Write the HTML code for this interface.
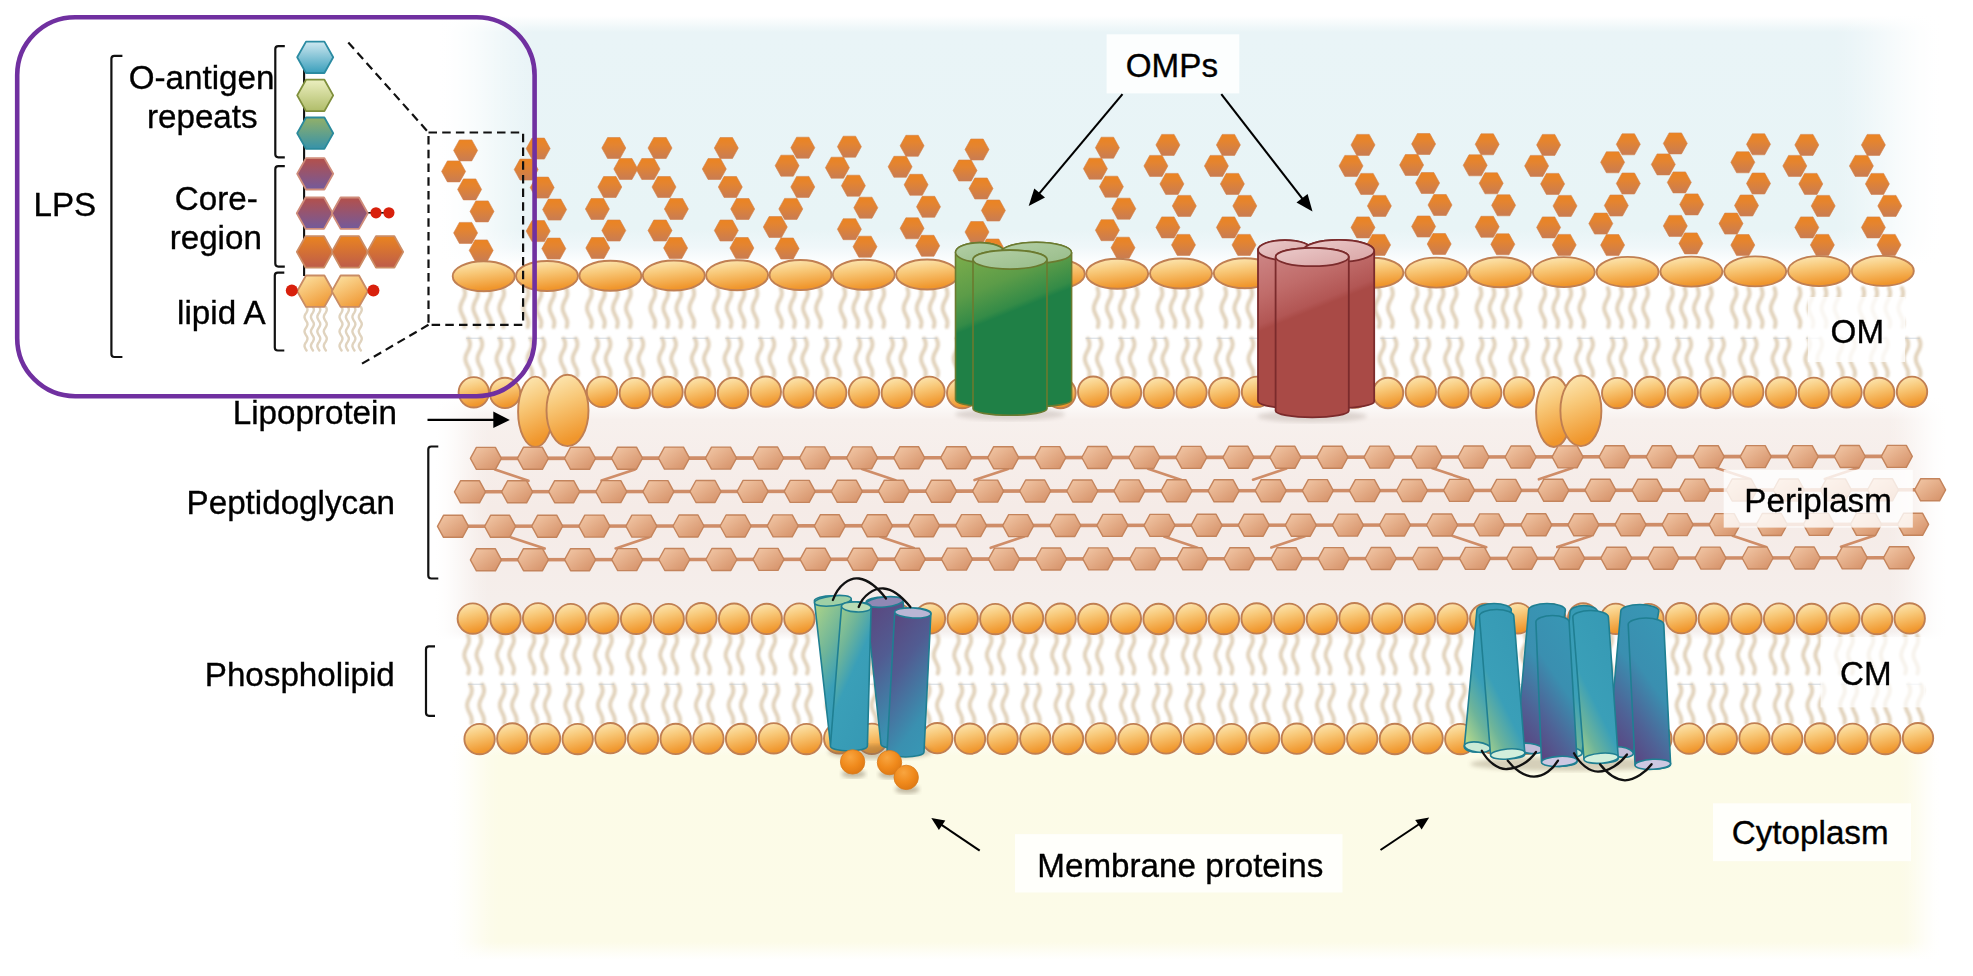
<!DOCTYPE html>
<html><head><meta charset="utf-8"><title>Gram-negative cell envelope</title>
<style>
html,body{margin:0;padding:0;background:#fff;}
body{width:1973px;height:976px;overflow:hidden;}
svg{display:block}
text{font-family:"Liberation Sans",sans-serif;font-size:33.2px;fill:#000;stroke:#000;stroke-width:0.35px;}
</style></head><body>
<svg width="1973" height="976" viewBox="0 0 1973 976">
<defs>

<linearGradient id="zb" x1="0" y1="0" x2="0" y2="1">
<stop offset="0" stop-color="#fff"/><stop offset="0.065" stop-color="#e9f4f7"/><stop offset="0.86" stop-color="#e8f4f6"/><stop offset="0.93" stop-color="#eff7f9"/><stop offset="1" stop-color="#fff"/></linearGradient>
<linearGradient id="zp" x1="0" y1="0" x2="0" y2="1">
<stop offset="0" stop-color="#fff"/><stop offset="0.09" stop-color="#f7f0ed"/><stop offset="0.45" stop-color="#f5ebe7"/><stop offset="0.83" stop-color="#f5eeeb"/><stop offset="0.965" stop-color="#f4efed"/><stop offset="1" stop-color="#fff"/></linearGradient>
<linearGradient id="zy" x1="0" y1="0" x2="0" y2="1">
<stop offset="0" stop-color="#fff"/><stop offset="0.1" stop-color="#fcfbe7"/><stop offset="0.92" stop-color="#fcfbe8"/><stop offset="1" stop-color="#fff"/></linearGradient>
<linearGradient id="fl" x1="0" y1="0" x2="1" y2="0"><stop offset="0.00" stop-color="#fff" stop-opacity="1.000"/><stop offset="0.10" stop-color="#fff" stop-opacity="0.972"/><stop offset="0.20" stop-color="#fff" stop-opacity="0.896"/><stop offset="0.30" stop-color="#fff" stop-opacity="0.784"/><stop offset="0.40" stop-color="#fff" stop-opacity="0.648"/><stop offset="0.50" stop-color="#fff" stop-opacity="0.500"/><stop offset="0.60" stop-color="#fff" stop-opacity="0.352"/><stop offset="0.70" stop-color="#fff" stop-opacity="0.216"/><stop offset="0.80" stop-color="#fff" stop-opacity="0.104"/><stop offset="0.90" stop-color="#fff" stop-opacity="0.028"/><stop offset="1.00" stop-color="#fff" stop-opacity="0.000"/></linearGradient>
<linearGradient id="fr" x1="0" y1="0" x2="1" y2="0"><stop offset="0.00" stop-color="#fff" stop-opacity="0.000"/><stop offset="0.10" stop-color="#fff" stop-opacity="0.028"/><stop offset="0.20" stop-color="#fff" stop-opacity="0.104"/><stop offset="0.30" stop-color="#fff" stop-opacity="0.216"/><stop offset="0.40" stop-color="#fff" stop-opacity="0.352"/><stop offset="0.50" stop-color="#fff" stop-opacity="0.500"/><stop offset="0.60" stop-color="#fff" stop-opacity="0.648"/><stop offset="0.70" stop-color="#fff" stop-opacity="0.784"/><stop offset="0.80" stop-color="#fff" stop-opacity="0.896"/><stop offset="0.90" stop-color="#fff" stop-opacity="0.972"/><stop offset="1.00" stop-color="#fff" stop-opacity="1.000"/></linearGradient>
<linearGradient id="gHex" x1="0" y1="0" x2="0" y2="1"><stop offset="0" stop-color="#ec8420"/><stop offset="0.35" stop-color="#e48430"/><stop offset="1" stop-color="#c97c52"/></linearGradient>
<linearGradient id="gHead" x1="0" y1="0" x2="0.25" y2="1"><stop offset="0" stop-color="#fdecbc"/><stop offset="0.45" stop-color="#f8c878"/><stop offset="1" stop-color="#f0962c"/></linearGradient>
<linearGradient id="gPG" x1="0" y1="0" x2="1" y2="1"><stop offset="0" stop-color="#f3c9a8"/><stop offset="1" stop-color="#d48f66"/></linearGradient>
<radialGradient id="gBall" cx="0.4" cy="0.3" r="0.7"><stop offset="0" stop-color="#f8a540"/><stop offset="0.6" stop-color="#f08a1c"/><stop offset="1" stop-color="#e07a14"/></radialGradient>
<filter id="blur1" x="-5%" y="-5%" width="110%" height="110%"><feGaussianBlur stdDeviation="1.0"/></filter>
<filter id="blur0" x="-5%" y="-5%" width="110%" height="110%"><feGaussianBlur stdDeviation="0.45"/></filter>
<filter id="blur2"><feGaussianBlur stdDeviation="2.2"/></filter>

<polygon id="hx" points="-12,0 -6.2,-10.5 6.2,-10.5 12,0 6.2,10.5 -6.2,10.5" fill="url(#gHex)" stroke="#d4824a" stroke-width="0.6"/>
<polygon id="pg" points="-15.5,0 -9.5,-11 9.5,-11 15.5,0 9.5,11 -9.5,11" fill="url(#gPG)" stroke="#c4845c" stroke-width="1.4" stroke-linejoin="round"/>
<ellipse id="hd" rx="31" ry="15" fill="url(#gHead)" stroke="#c07f52" stroke-width="1.9"/>
<circle id="cc" r="15.2" fill="url(#gHead)" stroke="#c07f52" stroke-width="1.9"/>
<path id="t1" d="M1.2 288L2.1 290.8L2.4 293.6L1.9 296.4L0.7 299.1L-0.7 301.9L-1.8 304.7L-2.4 307.5L-2.2 310.3L-1.2 313.1L0.1 315.9L1.4 318.6L2.3 321.4L2.3 324.2L1.6 327"/>
<path id="t2" d="M0.7 338.5L1.9 341.2L2.4 343.9L2.1 346.5L1.2 349.2L-0.2 351.9L-1.5 354.6L-2.3 357.2L-2.3 359.9L-1.6 362.6L-0.4 365.3L1 368L2 370.6L2.4 373.3L2 376"/>
<path id="t3" d="M1.2 635L2.1 637.8L2.4 640.5L1.9 643.2L0.7 646L-0.7 648.8L-1.8 651.5L-2.4 654.2L-2.2 657L-1.2 659.8L0.1 662.5L1.4 665.2L2.3 668L2.3 670.8L1.6 673.5"/>
<path id="t4" d="M0.7 684.5L1.9 687.2L2.4 690L2.1 692.8L1.2 695.5L-0.2 698.2L-1.5 701L-2.3 703.8L-2.3 706.5L-1.6 709.2L-0.4 712L1 714.8L2 717.5L2.4 720.2L2 723"/>
<marker id="ah" viewBox="0 0 10 10" refX="9" refY="5" markerWidth="8" markerHeight="8" orient="auto-start-reverse"><path d="M0 0L10 5L0 10z"/></marker>
</defs>

<rect x="0" y="0" width="1973" height="976" fill="#fff"/>
<rect x="440" y="16" width="1500" height="248" fill="url(#zb)"/>
<rect x="438" y="16" width="102" height="248" fill="url(#fl)"/>
<rect x="1828" y="16" width="114" height="248" fill="url(#fr)"/>
<rect x="436" y="398" width="1510" height="242" fill="url(#zp)"/>
<rect x="434" y="398" width="58" height="242" fill="url(#fl)"/>
<rect x="1884" y="398" width="64" height="242" fill="url(#fr)"/>
<rect x="450" y="733" width="1490" height="227" fill="url(#zy)"/>
<rect x="448" y="733" width="54" height="227" fill="url(#fl)"/>
<rect x="1898" y="733" width="44" height="227" fill="url(#fr)"/>
<g fill="none" stroke="#dfcfb6" stroke-width="4.0" stroke-linecap="round" opacity="0.92" filter="url(#blur1)">
<use href="#t1" x="462.7"/>
<use href="#t1" x="475.7"/>
<use href="#t1" x="488.7"/>
<use href="#t1" x="501.7"/>
<use href="#t1" x="526"/>
<use href="#t1" x="539"/>
<use href="#t1" x="552"/>
<use href="#t1" x="565"/>
<use href="#t1" x="589.4"/>
<use href="#t1" x="602.4"/>
<use href="#t1" x="615.4"/>
<use href="#t1" x="628.4"/>
<use href="#t1" x="652.8"/>
<use href="#t1" x="665.8"/>
<use href="#t1" x="678.8"/>
<use href="#t1" x="691.8"/>
<use href="#t1" x="716.1"/>
<use href="#t1" x="729.1"/>
<use href="#t1" x="742.1"/>
<use href="#t1" x="755.1"/>
<use href="#t1" x="779.5"/>
<use href="#t1" x="792.5"/>
<use href="#t1" x="805.5"/>
<use href="#t1" x="818.5"/>
<use href="#t1" x="842.8"/>
<use href="#t1" x="855.8"/>
<use href="#t1" x="868.8"/>
<use href="#t1" x="881.8"/>
<use href="#t1" x="906.1"/>
<use href="#t1" x="919.1"/>
<use href="#t1" x="932.1"/>
<use href="#t1" x="945.1"/>
<use href="#t1" x="1096.2"/>
<use href="#t1" x="1109.2"/>
<use href="#t1" x="1122.2"/>
<use href="#t1" x="1135.2"/>
<use href="#t1" x="1160"/>
<use href="#t1" x="1173"/>
<use href="#t1" x="1186"/>
<use href="#t1" x="1199"/>
<use href="#t1" x="1223.8"/>
<use href="#t1" x="1236.8"/>
<use href="#t1" x="1249.8"/>
<use href="#t1" x="1377.4"/>
<use href="#t1" x="1390.4"/>
<use href="#t1" x="1415.2"/>
<use href="#t1" x="1428.2"/>
<use href="#t1" x="1441.2"/>
<use href="#t1" x="1454.2"/>
<use href="#t1" x="1479"/>
<use href="#t1" x="1492"/>
<use href="#t1" x="1505"/>
<use href="#t1" x="1518"/>
<use href="#t1" x="1542.8"/>
<use href="#t1" x="1555.8"/>
<use href="#t1" x="1568.8"/>
<use href="#t1" x="1581.8"/>
<use href="#t1" x="1606.6"/>
<use href="#t1" x="1619.6"/>
<use href="#t1" x="1632.6"/>
<use href="#t1" x="1645.6"/>
<use href="#t1" x="1670.4"/>
<use href="#t1" x="1683.4"/>
<use href="#t1" x="1696.4"/>
<use href="#t1" x="1709.4"/>
<use href="#t1" x="1734.2"/>
<use href="#t1" x="1747.2"/>
<use href="#t1" x="1760.2"/>
<use href="#t1" x="1773.2"/>
<use href="#t1" x="1798"/>
<use href="#t1" x="1811"/>
<use href="#t1" x="1824"/>
<use href="#t1" x="1837"/>
<use href="#t1" x="1861.8"/>
<use href="#t1" x="1874.8"/>
<use href="#t1" x="1887.8"/>
<use href="#t1" x="1900.8"/>
<use href="#t2" x="467.7"/>
<use href="#t2" x="479.9"/>
<use href="#t2" x="498.9"/>
<use href="#t2" x="511.1"/>
<use href="#t2" x="529.9"/>
<use href="#t2" x="542.1"/>
<use href="#t2" x="562.9"/>
<use href="#t2" x="575.1"/>
<use href="#t2" x="595.9"/>
<use href="#t2" x="608.1"/>
<use href="#t2" x="628.6"/>
<use href="#t2" x="640.9"/>
<use href="#t2" x="661.4"/>
<use href="#t2" x="673.6"/>
<use href="#t2" x="694.1"/>
<use href="#t2" x="706.4"/>
<use href="#t2" x="726.9"/>
<use href="#t2" x="739.1"/>
<use href="#t2" x="759.6"/>
<use href="#t2" x="771.9"/>
<use href="#t2" x="792.4"/>
<use href="#t2" x="804.6"/>
<use href="#t2" x="825.1"/>
<use href="#t2" x="837.4"/>
<use href="#t2" x="857.9"/>
<use href="#t2" x="870.1"/>
<use href="#t2" x="890.6"/>
<use href="#t2" x="902.9"/>
<use href="#t2" x="923.4"/>
<use href="#t2" x="935.6"/>
<use href="#t2" x="956.1"/>
<use href="#t2" x="968.4"/>
<use href="#t2" x="988.9"/>
<use href="#t2" x="1001.1"/>
<use href="#t2" x="1021.6"/>
<use href="#t2" x="1033.8"/>
<use href="#t2" x="1054.4"/>
<use href="#t2" x="1066.6"/>
<use href="#t2" x="1087.2"/>
<use href="#t2" x="1099.3"/>
<use href="#t2" x="1119.9"/>
<use href="#t2" x="1132.1"/>
<use href="#t2" x="1152.7"/>
<use href="#t2" x="1164.8"/>
<use href="#t2" x="1185.4"/>
<use href="#t2" x="1197.6"/>
<use href="#t2" x="1218.2"/>
<use href="#t2" x="1230.3"/>
<use href="#t2" x="1250.9"/>
<use href="#t2" x="1263.1"/>
<use href="#t2" x="1283.7"/>
<use href="#t2" x="1295.8"/>
<use href="#t2" x="1316.4"/>
<use href="#t2" x="1328.6"/>
<use href="#t2" x="1349.2"/>
<use href="#t2" x="1361.3"/>
<use href="#t2" x="1381.9"/>
<use href="#t2" x="1394.1"/>
<use href="#t2" x="1414.7"/>
<use href="#t2" x="1426.8"/>
<use href="#t2" x="1447.4"/>
<use href="#t2" x="1459.6"/>
<use href="#t2" x="1480.2"/>
<use href="#t2" x="1492.3"/>
<use href="#t2" x="1512.9"/>
<use href="#t2" x="1525.1"/>
<use href="#t2" x="1545.7"/>
<use href="#t2" x="1557.8"/>
<use href="#t2" x="1578.4"/>
<use href="#t2" x="1590.6"/>
<use href="#t2" x="1611.2"/>
<use href="#t2" x="1623.3"/>
<use href="#t2" x="1643.9"/>
<use href="#t2" x="1656.1"/>
<use href="#t2" x="1676.7"/>
<use href="#t2" x="1688.8"/>
<use href="#t2" x="1709.4"/>
<use href="#t2" x="1721.6"/>
<use href="#t2" x="1742.2"/>
<use href="#t2" x="1754.3"/>
<use href="#t2" x="1774.9"/>
<use href="#t2" x="1787.1"/>
<use href="#t2" x="1807.7"/>
<use href="#t2" x="1819.8"/>
<use href="#t2" x="1840.4"/>
<use href="#t2" x="1852.6"/>
<use href="#t2" x="1873.2"/>
<use href="#t2" x="1885.3"/>
<use href="#t2" x="1905.9"/>
<use href="#t2" x="1918.1"/>
<use href="#t3" x="466.7"/>
<use href="#t3" x="478.9"/>
<use href="#t3" x="499.4"/>
<use href="#t3" x="511.6"/>
<use href="#t3" x="532"/>
<use href="#t3" x="544.2"/>
<use href="#t3" x="564.7"/>
<use href="#t3" x="576.9"/>
<use href="#t3" x="597.3"/>
<use href="#t3" x="609.5"/>
<use href="#t3" x="630"/>
<use href="#t3" x="642.2"/>
<use href="#t3" x="662.6"/>
<use href="#t3" x="674.8"/>
<use href="#t3" x="695.3"/>
<use href="#t3" x="707.5"/>
<use href="#t3" x="728"/>
<use href="#t3" x="740.2"/>
<use href="#t3" x="760.6"/>
<use href="#t3" x="772.8"/>
<use href="#t3" x="793.3"/>
<use href="#t3" x="805.5"/>
<use href="#t3" x="825.9"/>
<use href="#t3" x="838.1"/>
<use href="#t3" x="858.6"/>
<use href="#t3" x="870.8"/>
<use href="#t3" x="891.2"/>
<use href="#t3" x="903.4"/>
<use href="#t3" x="923.9"/>
<use href="#t3" x="936.1"/>
<use href="#t3" x="956.6"/>
<use href="#t3" x="968.8"/>
<use href="#t3" x="989.2"/>
<use href="#t3" x="1001.4"/>
<use href="#t3" x="1021.9"/>
<use href="#t3" x="1034.1"/>
<use href="#t3" x="1054.5"/>
<use href="#t3" x="1066.7"/>
<use href="#t3" x="1087.2"/>
<use href="#t3" x="1099.4"/>
<use href="#t3" x="1119.8"/>
<use href="#t3" x="1132"/>
<use href="#t3" x="1152.5"/>
<use href="#t3" x="1164.7"/>
<use href="#t3" x="1185.2"/>
<use href="#t3" x="1197.4"/>
<use href="#t3" x="1217.8"/>
<use href="#t3" x="1230"/>
<use href="#t3" x="1250.5"/>
<use href="#t3" x="1262.7"/>
<use href="#t3" x="1283.1"/>
<use href="#t3" x="1295.3"/>
<use href="#t3" x="1315.8"/>
<use href="#t3" x="1328"/>
<use href="#t3" x="1348.4"/>
<use href="#t3" x="1360.6"/>
<use href="#t3" x="1381.1"/>
<use href="#t3" x="1393.3"/>
<use href="#t3" x="1413.8"/>
<use href="#t3" x="1426"/>
<use href="#t3" x="1446.4"/>
<use href="#t3" x="1458.6"/>
<use href="#t3" x="1479.1"/>
<use href="#t3" x="1491.3"/>
<use href="#t3" x="1511.7"/>
<use href="#t3" x="1523.9"/>
<use href="#t3" x="1544.4"/>
<use href="#t3" x="1556.6"/>
<use href="#t3" x="1577"/>
<use href="#t3" x="1589.2"/>
<use href="#t3" x="1609.7"/>
<use href="#t3" x="1621.9"/>
<use href="#t3" x="1642.4"/>
<use href="#t3" x="1654.6"/>
<use href="#t3" x="1675"/>
<use href="#t3" x="1687.2"/>
<use href="#t3" x="1707.7"/>
<use href="#t3" x="1719.9"/>
<use href="#t3" x="1740.3"/>
<use href="#t3" x="1752.5"/>
<use href="#t3" x="1773"/>
<use href="#t3" x="1785.2"/>
<use href="#t3" x="1805.6"/>
<use href="#t3" x="1817.8"/>
<use href="#t3" x="1838.3"/>
<use href="#t3" x="1850.5"/>
<use href="#t3" x="1871"/>
<use href="#t3" x="1883.2"/>
<use href="#t3" x="1903.6"/>
<use href="#t3" x="1915.8"/>
<use href="#t4" x="469.5"/>
<use href="#t4" x="481.7"/>
<use href="#t4" x="502.2"/>
<use href="#t4" x="514.4"/>
<use href="#t4" x="534.9"/>
<use href="#t4" x="547.1"/>
<use href="#t4" x="567.6"/>
<use href="#t4" x="579.8"/>
<use href="#t4" x="600.3"/>
<use href="#t4" x="612.5"/>
<use href="#t4" x="632.9"/>
<use href="#t4" x="645.1"/>
<use href="#t4" x="665.6"/>
<use href="#t4" x="677.8"/>
<use href="#t4" x="698.3"/>
<use href="#t4" x="710.5"/>
<use href="#t4" x="731"/>
<use href="#t4" x="743.2"/>
<use href="#t4" x="763.7"/>
<use href="#t4" x="775.9"/>
<use href="#t4" x="796.4"/>
<use href="#t4" x="808.6"/>
<use href="#t4" x="829.1"/>
<use href="#t4" x="841.3"/>
<use href="#t4" x="861.8"/>
<use href="#t4" x="874"/>
<use href="#t4" x="894.5"/>
<use href="#t4" x="906.7"/>
<use href="#t4" x="927.2"/>
<use href="#t4" x="939.4"/>
<use href="#t4" x="959.9"/>
<use href="#t4" x="972.1"/>
<use href="#t4" x="992.5"/>
<use href="#t4" x="1004.7"/>
<use href="#t4" x="1025.2"/>
<use href="#t4" x="1037.4"/>
<use href="#t4" x="1057.9"/>
<use href="#t4" x="1070.1"/>
<use href="#t4" x="1090.6"/>
<use href="#t4" x="1102.8"/>
<use href="#t4" x="1123.3"/>
<use href="#t4" x="1135.5"/>
<use href="#t4" x="1156"/>
<use href="#t4" x="1168.2"/>
<use href="#t4" x="1188.7"/>
<use href="#t4" x="1200.9"/>
<use href="#t4" x="1221.4"/>
<use href="#t4" x="1233.6"/>
<use href="#t4" x="1254.1"/>
<use href="#t4" x="1266.3"/>
<use href="#t4" x="1286.8"/>
<use href="#t4" x="1298.9"/>
<use href="#t4" x="1319.4"/>
<use href="#t4" x="1331.6"/>
<use href="#t4" x="1352.1"/>
<use href="#t4" x="1364.3"/>
<use href="#t4" x="1384.8"/>
<use href="#t4" x="1397"/>
<use href="#t4" x="1417.5"/>
<use href="#t4" x="1429.7"/>
<use href="#t4" x="1450.2"/>
<use href="#t4" x="1462.4"/>
<use href="#t4" x="1482.9"/>
<use href="#t4" x="1495.1"/>
<use href="#t4" x="1515.6"/>
<use href="#t4" x="1527.8"/>
<use href="#t4" x="1548.3"/>
<use href="#t4" x="1560.5"/>
<use href="#t4" x="1581"/>
<use href="#t4" x="1593.2"/>
<use href="#t4" x="1613.7"/>
<use href="#t4" x="1625.8"/>
<use href="#t4" x="1646.3"/>
<use href="#t4" x="1658.5"/>
<use href="#t4" x="1679"/>
<use href="#t4" x="1691.2"/>
<use href="#t4" x="1711.7"/>
<use href="#t4" x="1723.9"/>
<use href="#t4" x="1744.4"/>
<use href="#t4" x="1756.6"/>
<use href="#t4" x="1777.1"/>
<use href="#t4" x="1789.3"/>
<use href="#t4" x="1809.8"/>
<use href="#t4" x="1822"/>
<use href="#t4" x="1842.5"/>
<use href="#t4" x="1854.7"/>
<use href="#t4" x="1875.2"/>
<use href="#t4" x="1887.4"/>
<use href="#t4" x="1907.9"/>
<use href="#t4" x="1920.1"/>
</g>
<g stroke="#b9c3cf" stroke-width="1.3" opacity="0.5" filter="url(#blur0)">
<path d="M466.1 338.3h15.4"/>
<path d="M497.3 338.3h15.4"/>
<path d="M528.3 338.3h15.4"/>
<path d="M561.3 338.3h15.4"/>
<path d="M594.3 338.3h15.4"/>
<path d="M627 338.3h15.4"/>
<path d="M659.8 338.3h15.4"/>
<path d="M692.5 338.3h15.4"/>
<path d="M725.3 338.3h15.4"/>
<path d="M758 338.3h15.4"/>
<path d="M790.8 338.3h15.4"/>
<path d="M823.5 338.3h15.4"/>
<path d="M856.3 338.3h15.4"/>
<path d="M889 338.3h15.4"/>
<path d="M921.8 338.3h15.4"/>
<path d="M954.5 338.3h15.4"/>
<path d="M987.3 338.3h15.4"/>
<path d="M1020 338.3h15.4"/>
<path d="M1052.8 338.3h15.4"/>
<path d="M1085.5 338.3h15.4"/>
<path d="M1118.3 338.3h15.4"/>
<path d="M1151 338.3h15.4"/>
<path d="M1183.8 338.3h15.4"/>
<path d="M1216.5 338.3h15.4"/>
<path d="M1249.3 338.3h15.4"/>
<path d="M1282 338.3h15.4"/>
<path d="M1314.8 338.3h15.4"/>
<path d="M1347.5 338.3h15.4"/>
<path d="M1380.3 338.3h15.4"/>
<path d="M1413 338.3h15.4"/>
<path d="M1445.8 338.3h15.4"/>
<path d="M1478.5 338.3h15.4"/>
<path d="M1511.3 338.3h15.4"/>
<path d="M1544 338.3h15.4"/>
<path d="M1576.8 338.3h15.4"/>
<path d="M1609.5 338.3h15.4"/>
<path d="M1642.3 338.3h15.4"/>
<path d="M1675 338.3h15.4"/>
<path d="M1707.8 338.3h15.4"/>
<path d="M1740.5 338.3h15.4"/>
<path d="M1773.3 338.3h15.4"/>
<path d="M1806 338.3h15.4"/>
<path d="M1838.8 338.3h15.4"/>
<path d="M1871.5 338.3h15.4"/>
<path d="M1904.3 338.3h15.4"/>
<path d="M467.9 684.3h15.4"/>
<path d="M500.6 684.3h15.4"/>
<path d="M533.3 684.3h15.4"/>
<path d="M566 684.3h15.4"/>
<path d="M598.7 684.3h15.4"/>
<path d="M631.3 684.3h15.4"/>
<path d="M664 684.3h15.4"/>
<path d="M696.7 684.3h15.4"/>
<path d="M729.4 684.3h15.4"/>
<path d="M762.1 684.3h15.4"/>
<path d="M794.8 684.3h15.4"/>
<path d="M827.5 684.3h15.4"/>
<path d="M860.2 684.3h15.4"/>
<path d="M892.9 684.3h15.4"/>
<path d="M925.6 684.3h15.4"/>
<path d="M958.2 684.3h15.4"/>
<path d="M990.9 684.3h15.4"/>
<path d="M1023.6 684.3h15.4"/>
<path d="M1056.3 684.3h15.4"/>
<path d="M1089 684.3h15.4"/>
<path d="M1121.7 684.3h15.4"/>
<path d="M1154.4 684.3h15.4"/>
<path d="M1187.1 684.3h15.4"/>
<path d="M1219.8 684.3h15.4"/>
<path d="M1252.5 684.3h15.4"/>
<path d="M1285.1 684.3h15.4"/>
<path d="M1317.8 684.3h15.4"/>
<path d="M1350.5 684.3h15.4"/>
<path d="M1383.2 684.3h15.4"/>
<path d="M1415.9 684.3h15.4"/>
<path d="M1448.6 684.3h15.4"/>
<path d="M1481.3 684.3h15.4"/>
<path d="M1514 684.3h15.4"/>
<path d="M1546.7 684.3h15.4"/>
<path d="M1579.4 684.3h15.4"/>
<path d="M1612 684.3h15.4"/>
<path d="M1644.7 684.3h15.4"/>
<path d="M1677.4 684.3h15.4"/>
<path d="M1710.1 684.3h15.4"/>
<path d="M1742.8 684.3h15.4"/>
<path d="M1775.5 684.3h15.4"/>
<path d="M1808.2 684.3h15.4"/>
<path d="M1840.9 684.3h15.4"/>
<path d="M1873.6 684.3h15.4"/>
<path d="M1906.3 684.3h15.4"/>
</g>
<g>
<use href="#hx" x="465.6" y="150.4"/>
<use href="#hx" x="453.6" y="171.4"/>
<use href="#hx" x="469.6" y="189.4"/>
<use href="#hx" x="482" y="211.4"/>
<use href="#hx" x="465.6" y="232.9"/>
<use href="#hx" x="481.2" y="250.4"/>
<use href="#hx" x="538.2" y="148.6"/>
<use href="#hx" x="526.2" y="169.6"/>
<use href="#hx" x="542.2" y="187.6"/>
<use href="#hx" x="554.6" y="209.6"/>
<use href="#hx" x="538.2" y="231.1"/>
<use href="#hx" x="553.8" y="248.6"/>
<use href="#hx" x="613.8" y="148"/>
<use href="#hx" x="625.8" y="169"/>
<use href="#hx" x="609.8" y="187"/>
<use href="#hx" x="597.4" y="209"/>
<use href="#hx" x="613.8" y="230.5"/>
<use href="#hx" x="597.8" y="248"/>
<use href="#hx" x="660" y="148"/>
<use href="#hx" x="648" y="169"/>
<use href="#hx" x="664" y="187"/>
<use href="#hx" x="676.4" y="209"/>
<use href="#hx" x="660" y="230.5"/>
<use href="#hx" x="675.6" y="248"/>
<use href="#hx" x="726.3" y="148"/>
<use href="#hx" x="714.3" y="169"/>
<use href="#hx" x="730.3" y="187"/>
<use href="#hx" x="742.7" y="209"/>
<use href="#hx" x="726.3" y="230.5"/>
<use href="#hx" x="741.9" y="248"/>
<use href="#hx" x="802.8" y="147.7"/>
<use href="#hx" x="787.1" y="165.7"/>
<use href="#hx" x="802.8" y="186.9"/>
<use href="#hx" x="790.8" y="208.9"/>
<use href="#hx" x="775.3" y="227"/>
<use href="#hx" x="787.1" y="248.5"/>
<use href="#hx" x="849.4" y="146.7"/>
<use href="#hx" x="837.4" y="167.7"/>
<use href="#hx" x="853.4" y="185.7"/>
<use href="#hx" x="865.8" y="207.7"/>
<use href="#hx" x="849.4" y="229.2"/>
<use href="#hx" x="865" y="246.7"/>
<use href="#hx" x="912.1" y="145.8"/>
<use href="#hx" x="900.1" y="166.8"/>
<use href="#hx" x="916.1" y="184.8"/>
<use href="#hx" x="928.5" y="206.8"/>
<use href="#hx" x="912.1" y="228.3"/>
<use href="#hx" x="927.7" y="245.8"/>
<use href="#hx" x="977" y="149.5"/>
<use href="#hx" x="965" y="170.5"/>
<use href="#hx" x="981" y="188.5"/>
<use href="#hx" x="993.4" y="210.5"/>
<use href="#hx" x="977" y="232"/>
<use href="#hx" x="992.6" y="249.5"/>
<use href="#hx" x="1107.4" y="147.7"/>
<use href="#hx" x="1095.4" y="168.7"/>
<use href="#hx" x="1111.4" y="186.7"/>
<use href="#hx" x="1123.8" y="208.7"/>
<use href="#hx" x="1107.4" y="230.2"/>
<use href="#hx" x="1123" y="247.7"/>
<use href="#hx" x="1167.9" y="144.9"/>
<use href="#hx" x="1155.9" y="165.9"/>
<use href="#hx" x="1171.9" y="183.9"/>
<use href="#hx" x="1184.3" y="205.9"/>
<use href="#hx" x="1167.9" y="227.4"/>
<use href="#hx" x="1183.5" y="244.9"/>
<use href="#hx" x="1228.4" y="144.9"/>
<use href="#hx" x="1216.4" y="165.9"/>
<use href="#hx" x="1232.4" y="183.9"/>
<use href="#hx" x="1244.8" y="205.9"/>
<use href="#hx" x="1228.4" y="227.4"/>
<use href="#hx" x="1244" y="244.9"/>
<use href="#hx" x="1363" y="144.9"/>
<use href="#hx" x="1351" y="165.9"/>
<use href="#hx" x="1367" y="183.9"/>
<use href="#hx" x="1379.4" y="205.9"/>
<use href="#hx" x="1363" y="227.4"/>
<use href="#hx" x="1378.6" y="244.9"/>
<use href="#hx" x="1423.6" y="144"/>
<use href="#hx" x="1411.6" y="165"/>
<use href="#hx" x="1427.6" y="183"/>
<use href="#hx" x="1440" y="205"/>
<use href="#hx" x="1423.6" y="226.5"/>
<use href="#hx" x="1439.2" y="244"/>
<use href="#hx" x="1487.2" y="144.3"/>
<use href="#hx" x="1475.2" y="165.3"/>
<use href="#hx" x="1491.2" y="183.3"/>
<use href="#hx" x="1503.6" y="205.3"/>
<use href="#hx" x="1487.2" y="226.8"/>
<use href="#hx" x="1502.8" y="244.3"/>
<use href="#hx" x="1548.6" y="144.9"/>
<use href="#hx" x="1536.6" y="165.9"/>
<use href="#hx" x="1552.6" y="183.9"/>
<use href="#hx" x="1565" y="205.9"/>
<use href="#hx" x="1548.6" y="227.4"/>
<use href="#hx" x="1564.2" y="244.9"/>
<use href="#hx" x="1628.3" y="144.3"/>
<use href="#hx" x="1612.6" y="162.3"/>
<use href="#hx" x="1628.3" y="183.5"/>
<use href="#hx" x="1616.3" y="205.5"/>
<use href="#hx" x="1600.8" y="223.6"/>
<use href="#hx" x="1612.6" y="245.1"/>
<use href="#hx" x="1675.3" y="143.4"/>
<use href="#hx" x="1663.3" y="164.4"/>
<use href="#hx" x="1679.3" y="182.4"/>
<use href="#hx" x="1691.7" y="204.4"/>
<use href="#hx" x="1675.3" y="225.9"/>
<use href="#hx" x="1690.9" y="243.4"/>
<use href="#hx" x="1758.5" y="144.3"/>
<use href="#hx" x="1742.8" y="162.3"/>
<use href="#hx" x="1758.5" y="183.5"/>
<use href="#hx" x="1746.5" y="205.5"/>
<use href="#hx" x="1731" y="223.6"/>
<use href="#hx" x="1742.8" y="245.1"/>
<use href="#hx" x="1806.8" y="144.9"/>
<use href="#hx" x="1794.8" y="165.9"/>
<use href="#hx" x="1810.8" y="183.9"/>
<use href="#hx" x="1823.2" y="205.9"/>
<use href="#hx" x="1806.8" y="227.4"/>
<use href="#hx" x="1822.4" y="244.9"/>
<use href="#hx" x="1873.4" y="144.9"/>
<use href="#hx" x="1861.4" y="165.9"/>
<use href="#hx" x="1877.4" y="183.9"/>
<use href="#hx" x="1889.8" y="205.9"/>
<use href="#hx" x="1873.4" y="227.4"/>
<use href="#hx" x="1889" y="244.9"/>
</g>
<g>
<use href="#hd" x="483.7" y="276.2"/>
<use href="#hd" x="547" y="276"/>
<use href="#hd" x="610.4" y="275.7"/>
<use href="#hd" x="673.8" y="275.5"/>
<use href="#hd" x="737.1" y="275.2"/>
<use href="#hd" x="800.5" y="275"/>
<use href="#hd" x="863.8" y="274.8"/>
<use href="#hd" x="927.1" y="274.5"/>
<use href="#hd" x="990.5" y="274.3"/>
<use href="#hd" x="1053.8" y="274"/>
<use href="#hd" x="1117.2" y="273.8"/>
<use href="#hd" x="1181" y="273.5"/>
<use href="#hd" x="1244.8" y="273.3"/>
<use href="#hd" x="1308.6" y="273.1"/>
<use href="#hd" x="1372.4" y="272.8"/>
<use href="#hd" x="1436.2" y="272.6"/>
<use href="#hd" x="1500" y="272.3"/>
<use href="#hd" x="1563.8" y="272.1"/>
<use href="#hd" x="1627.6" y="271.9"/>
<use href="#hd" x="1691.4" y="271.6"/>
<use href="#hd" x="1755.2" y="271.4"/>
<use href="#hd" x="1819" y="271.1"/>
<use href="#hd" x="1882.8" y="270.9"/>
</g>
<g>
<use href="#cc" x="473.8" y="392.3"/>
<use href="#cc" x="505" y="392.9"/>
<use href="#cc" x="602" y="391.8"/>
<use href="#cc" x="634.8" y="393.1"/>
<use href="#cc" x="667.5" y="392"/>
<use href="#cc" x="700.2" y="392.5"/>
<use href="#cc" x="733" y="393"/>
<use href="#cc" x="765.8" y="391.7"/>
<use href="#cc" x="798.5" y="392.5"/>
<use href="#cc" x="831.2" y="392.8"/>
<use href="#cc" x="864" y="392.3"/>
<use href="#cc" x="896.8" y="392.9"/>
<use href="#cc" x="929.5" y="391.8"/>
<use href="#cc" x="962.2" y="393.1"/>
<use href="#cc" x="995" y="392"/>
<use href="#cc" x="1027.8" y="392.5"/>
<use href="#cc" x="1060.5" y="393"/>
<use href="#cc" x="1093.2" y="391.7"/>
<use href="#cc" x="1126" y="392.5"/>
<use href="#cc" x="1158.8" y="392.8"/>
<use href="#cc" x="1191.5" y="392.3"/>
<use href="#cc" x="1224.2" y="392.9"/>
<use href="#cc" x="1257" y="391.8"/>
<use href="#cc" x="1289.8" y="393.1"/>
<use href="#cc" x="1322.5" y="392"/>
<use href="#cc" x="1355.2" y="392.5"/>
<use href="#cc" x="1388" y="393"/>
<use href="#cc" x="1420.8" y="391.7"/>
<use href="#cc" x="1453.5" y="392.5"/>
<use href="#cc" x="1486.2" y="392.8"/>
<use href="#cc" x="1519" y="392.3"/>
<use href="#cc" x="1617.2" y="393.1"/>
<use href="#cc" x="1650" y="392"/>
<use href="#cc" x="1682.8" y="392.5"/>
<use href="#cc" x="1715.5" y="393"/>
<use href="#cc" x="1748.2" y="391.7"/>
<use href="#cc" x="1781" y="392.5"/>
<use href="#cc" x="1813.8" y="392.8"/>
<use href="#cc" x="1846.5" y="392.3"/>
<use href="#cc" x="1879.2" y="392.9"/>
<use href="#cc" x="1912" y="391.8"/>
</g>
<ellipse cx="535.4" cy="411.8" rx="17.3" ry="35.2" fill="url(#gHead)" stroke="#c07f52" stroke-width="1.9"/>
<ellipse cx="567.5" cy="410.4" rx="21" ry="35.7" fill="url(#gHead)" stroke="#c07f52" stroke-width="1.9"/>
<ellipse cx="1553.8" cy="412" rx="17.7" ry="35" fill="url(#gHead)" stroke="#c07f52" stroke-width="1.9"/>
<ellipse cx="1580.9" cy="410.8" rx="20.5" ry="35.3" fill="url(#gHead)" stroke="#c07f52" stroke-width="1.9"/>
<g stroke="#cf8d68" stroke-width="3.6" fill="none">
<path d="M485.9 458.4L1896.8 456.4"/>
<path d="M470 491.8L1930.1 489.8"/>
<path d="M453 526.3L1913.1 524.3"/>
<path d="M485.9 559.8L1898.9 557.8"/>
</g>
<g stroke="#cf8d68" stroke-width="2.6" fill="none" stroke-linecap="round">
<path d="M495 469.6L528.5 480.8"/>
<path d="M635 469.4L601.5 480.6"/>
<path d="M862 469.1L895.5 480.3"/>
<path d="M1008 468.9L974.5 480.1"/>
<path d="M1148 468.7L1181.5 479.9"/>
<path d="M1286.5 468.5L1253 479.7"/>
<path d="M1432.5 468.3L1466 479.5"/>
<path d="M1572.4 468.1L1538.9 479.3"/>
<path d="M1716.4 467.9L1749.9 479.1"/>
<path d="M1858.3 467.7L1824.8 478.9"/>
<path d="M511.2 537.4L544.7 548.6"/>
<path d="M649.1 537.2L615.6 548.4"/>
<path d="M880.3 536.8L913.8 548"/>
<path d="M1024.2 536.6L990.7 547.8"/>
<path d="M1164 536.5L1197.5 547.7"/>
<path d="M1304.8 536.3L1271.3 547.5"/>
<path d="M1452.8 536L1486.3 547.2"/>
<path d="M1590.7 535.9L1557.2 547.1"/>
<path d="M1732.6 535.7L1766.1 546.9"/>
<path d="M1874.5 535.5L1841 546.7"/>
</g>
<g>
<use href="#pg" x="485.9" y="458.4"/>
<use href="#pg" x="532.9" y="458.3"/>
<use href="#pg" x="580" y="458.3"/>
<use href="#pg" x="627" y="458.2"/>
<use href="#pg" x="674" y="458.1"/>
<use href="#pg" x="721" y="458.1"/>
<use href="#pg" x="768.1" y="458"/>
<use href="#pg" x="815.1" y="457.9"/>
<use href="#pg" x="862.1" y="457.9"/>
<use href="#pg" x="909.2" y="457.8"/>
<use href="#pg" x="956.2" y="457.7"/>
<use href="#pg" x="1003.2" y="457.7"/>
<use href="#pg" x="1050.3" y="457.6"/>
<use href="#pg" x="1097.3" y="457.5"/>
<use href="#pg" x="1144.3" y="457.5"/>
<use href="#pg" x="1191.3" y="457.4"/>
<use href="#pg" x="1238.4" y="457.3"/>
<use href="#pg" x="1285.4" y="457.3"/>
<use href="#pg" x="1332.4" y="457.2"/>
<use href="#pg" x="1379.5" y="457.1"/>
<use href="#pg" x="1426.5" y="457.1"/>
<use href="#pg" x="1473.5" y="457"/>
<use href="#pg" x="1520.6" y="457"/>
<use href="#pg" x="1567.6" y="456.9"/>
<use href="#pg" x="1614.6" y="456.8"/>
<use href="#pg" x="1661.7" y="456.8"/>
<use href="#pg" x="1708.7" y="456.7"/>
<use href="#pg" x="1755.7" y="456.6"/>
<use href="#pg" x="1802.7" y="456.6"/>
<use href="#pg" x="1849.8" y="456.5"/>
<use href="#pg" x="1896.8" y="456.4"/>
<use href="#pg" x="470" y="491.8"/>
<use href="#pg" x="517.1" y="491.8"/>
<use href="#pg" x="564.2" y="491.7"/>
<use href="#pg" x="611.3" y="491.6"/>
<use href="#pg" x="658.4" y="491.6"/>
<use href="#pg" x="705.5" y="491.5"/>
<use href="#pg" x="752.6" y="491.4"/>
<use href="#pg" x="799.7" y="491.4"/>
<use href="#pg" x="846.8" y="491.3"/>
<use href="#pg" x="893.9" y="491.2"/>
<use href="#pg" x="941" y="491.2"/>
<use href="#pg" x="988.1" y="491.1"/>
<use href="#pg" x="1035.2" y="491"/>
<use href="#pg" x="1082.3" y="491"/>
<use href="#pg" x="1129.4" y="490.9"/>
<use href="#pg" x="1176.5" y="490.8"/>
<use href="#pg" x="1223.6" y="490.8"/>
<use href="#pg" x="1270.7" y="490.7"/>
<use href="#pg" x="1317.8" y="490.6"/>
<use href="#pg" x="1364.9" y="490.6"/>
<use href="#pg" x="1412" y="490.5"/>
<use href="#pg" x="1459.1" y="490.4"/>
<use href="#pg" x="1506.2" y="490.4"/>
<use href="#pg" x="1553.3" y="490.3"/>
<use href="#pg" x="1600.4" y="490.2"/>
<use href="#pg" x="1647.5" y="490.2"/>
<use href="#pg" x="1694.6" y="490.1"/>
<use href="#pg" x="1741.7" y="490"/>
<use href="#pg" x="1788.8" y="490"/>
<use href="#pg" x="1835.9" y="489.9"/>
<use href="#pg" x="1883" y="489.8"/>
<use href="#pg" x="1930.1" y="489.8"/>
<use href="#pg" x="453" y="526.3"/>
<use href="#pg" x="500.1" y="526.3"/>
<use href="#pg" x="547.2" y="526.2"/>
<use href="#pg" x="594.3" y="526.1"/>
<use href="#pg" x="641.4" y="526.1"/>
<use href="#pg" x="688.5" y="526"/>
<use href="#pg" x="735.6" y="526"/>
<use href="#pg" x="782.7" y="525.9"/>
<use href="#pg" x="829.8" y="525.8"/>
<use href="#pg" x="876.9" y="525.8"/>
<use href="#pg" x="924" y="525.7"/>
<use href="#pg" x="971.1" y="525.6"/>
<use href="#pg" x="1018.2" y="525.6"/>
<use href="#pg" x="1065.3" y="525.5"/>
<use href="#pg" x="1112.4" y="525.4"/>
<use href="#pg" x="1159.5" y="525.4"/>
<use href="#pg" x="1206.6" y="525.3"/>
<use href="#pg" x="1253.7" y="525.2"/>
<use href="#pg" x="1300.8" y="525.2"/>
<use href="#pg" x="1347.9" y="525.1"/>
<use href="#pg" x="1395" y="525"/>
<use href="#pg" x="1442.1" y="525"/>
<use href="#pg" x="1489.2" y="524.9"/>
<use href="#pg" x="1536.3" y="524.8"/>
<use href="#pg" x="1583.4" y="524.8"/>
<use href="#pg" x="1630.5" y="524.7"/>
<use href="#pg" x="1677.6" y="524.6"/>
<use href="#pg" x="1724.7" y="524.6"/>
<use href="#pg" x="1771.8" y="524.5"/>
<use href="#pg" x="1818.9" y="524.4"/>
<use href="#pg" x="1866" y="524.4"/>
<use href="#pg" x="1913.1" y="524.3"/>
<use href="#pg" x="485.9" y="559.8"/>
<use href="#pg" x="533" y="559.7"/>
<use href="#pg" x="580.1" y="559.7"/>
<use href="#pg" x="627.2" y="559.6"/>
<use href="#pg" x="674.3" y="559.5"/>
<use href="#pg" x="721.4" y="559.5"/>
<use href="#pg" x="768.5" y="559.4"/>
<use href="#pg" x="815.6" y="559.3"/>
<use href="#pg" x="862.7" y="559.3"/>
<use href="#pg" x="909.8" y="559.2"/>
<use href="#pg" x="956.9" y="559.1"/>
<use href="#pg" x="1004" y="559.1"/>
<use href="#pg" x="1051.1" y="559"/>
<use href="#pg" x="1098.2" y="558.9"/>
<use href="#pg" x="1145.3" y="558.9"/>
<use href="#pg" x="1192.4" y="558.8"/>
<use href="#pg" x="1239.5" y="558.7"/>
<use href="#pg" x="1286.6" y="558.7"/>
<use href="#pg" x="1333.7" y="558.6"/>
<use href="#pg" x="1380.8" y="558.5"/>
<use href="#pg" x="1427.9" y="558.5"/>
<use href="#pg" x="1475" y="558.4"/>
<use href="#pg" x="1522.1" y="558.3"/>
<use href="#pg" x="1569.2" y="558.3"/>
<use href="#pg" x="1616.3" y="558.2"/>
<use href="#pg" x="1663.4" y="558.2"/>
<use href="#pg" x="1710.5" y="558.1"/>
<use href="#pg" x="1757.6" y="558"/>
<use href="#pg" x="1804.7" y="558"/>
<use href="#pg" x="1851.8" y="557.9"/>
<use href="#pg" x="1898.9" y="557.8"/>
</g>
<g>
<use href="#cc" x="472.8" y="618.6"/>
<use href="#cc" x="505.5" y="619"/>
<use href="#cc" x="538.1" y="618.3"/>
<use href="#cc" x="570.8" y="619.1"/>
<use href="#cc" x="603.4" y="618.4"/>
<use href="#cc" x="636.1" y="618.8"/>
<use href="#cc" x="668.7" y="619.1"/>
<use href="#cc" x="701.4" y="618.2"/>
<use href="#cc" x="734.1" y="618.7"/>
<use href="#cc" x="766.7" y="618.9"/>
<use href="#cc" x="799.4" y="618.6"/>
<use href="#cc" x="832" y="619"/>
<use href="#cc" x="864.7" y="618.3"/>
<use href="#cc" x="897.3" y="619.1"/>
<use href="#cc" x="930" y="618.4"/>
<use href="#cc" x="962.7" y="618.8"/>
<use href="#cc" x="995.3" y="619.1"/>
<use href="#cc" x="1028" y="618.2"/>
<use href="#cc" x="1060.6" y="618.7"/>
<use href="#cc" x="1093.3" y="618.9"/>
<use href="#cc" x="1125.9" y="618.6"/>
<use href="#cc" x="1158.6" y="619"/>
<use href="#cc" x="1191.3" y="618.3"/>
<use href="#cc" x="1223.9" y="619.1"/>
<use href="#cc" x="1256.6" y="618.4"/>
<use href="#cc" x="1289.2" y="618.8"/>
<use href="#cc" x="1321.9" y="619.1"/>
<use href="#cc" x="1354.5" y="618.2"/>
<use href="#cc" x="1387.2" y="618.7"/>
<use href="#cc" x="1419.9" y="618.9"/>
<use href="#cc" x="1452.5" y="618.6"/>
<use href="#cc" x="1485.2" y="619"/>
<use href="#cc" x="1517.8" y="618.3"/>
<use href="#cc" x="1550.5" y="619.1"/>
<use href="#cc" x="1583.1" y="618.4"/>
<use href="#cc" x="1615.8" y="618.8"/>
<use href="#cc" x="1648.5" y="619.1"/>
<use href="#cc" x="1681.1" y="618.2"/>
<use href="#cc" x="1713.8" y="618.7"/>
<use href="#cc" x="1746.4" y="618.9"/>
<use href="#cc" x="1779.1" y="618.6"/>
<use href="#cc" x="1811.7" y="619"/>
<use href="#cc" x="1844.4" y="618.3"/>
<use href="#cc" x="1877.1" y="619.1"/>
<use href="#cc" x="1909.7" y="618.4"/>
<use href="#cc" x="479.6" y="739.1"/>
<use href="#cc" x="512.3" y="738.4"/>
<use href="#cc" x="545" y="738.8"/>
<use href="#cc" x="577.7" y="739.1"/>
<use href="#cc" x="610.4" y="738.2"/>
<use href="#cc" x="643" y="738.7"/>
<use href="#cc" x="675.7" y="738.9"/>
<use href="#cc" x="708.4" y="738.6"/>
<use href="#cc" x="741.1" y="739"/>
<use href="#cc" x="773.8" y="738.3"/>
<use href="#cc" x="806.5" y="739.1"/>
<use href="#cc" x="839.2" y="738.4"/>
<use href="#cc" x="871.9" y="738.8"/>
<use href="#cc" x="904.6" y="739.1"/>
<use href="#cc" x="937.3" y="738.2"/>
<use href="#cc" x="970" y="738.7"/>
<use href="#cc" x="1002.6" y="738.9"/>
<use href="#cc" x="1035.3" y="738.6"/>
<use href="#cc" x="1068" y="739"/>
<use href="#cc" x="1100.7" y="738.3"/>
<use href="#cc" x="1133.4" y="739.1"/>
<use href="#cc" x="1166.1" y="738.4"/>
<use href="#cc" x="1198.8" y="738.8"/>
<use href="#cc" x="1231.5" y="739.1"/>
<use href="#cc" x="1264.2" y="738.2"/>
<use href="#cc" x="1296.8" y="738.7"/>
<use href="#cc" x="1329.5" y="738.9"/>
<use href="#cc" x="1362.2" y="738.6"/>
<use href="#cc" x="1394.9" y="739"/>
<use href="#cc" x="1427.6" y="738.3"/>
<use href="#cc" x="1460.3" y="739.1"/>
<use href="#cc" x="1493" y="738.4"/>
<use href="#cc" x="1525.7" y="738.8"/>
<use href="#cc" x="1558.4" y="739.1"/>
<use href="#cc" x="1591.1" y="738.2"/>
<use href="#cc" x="1623.8" y="738.7"/>
<use href="#cc" x="1656.4" y="738.9"/>
<use href="#cc" x="1689.1" y="738.6"/>
<use href="#cc" x="1721.8" y="739"/>
<use href="#cc" x="1754.5" y="738.3"/>
<use href="#cc" x="1787.2" y="739.1"/>
<use href="#cc" x="1819.9" y="738.4"/>
<use href="#cc" x="1852.6" y="738.8"/>
<use href="#cc" x="1885.3" y="739.1"/>
<use href="#cc" x="1918" y="738.2"/>
</g>
<defs><linearGradient id="gb" gradientUnits="userSpaceOnUse" x1="983" y1="237" x2="1015" y2="317"><stop offset="0" stop-color="#82b04c"/><stop offset="0.55" stop-color="#5c9c48"/><stop offset="0.86" stop-color="#348b47"/><stop offset="0.93" stop-color="#1f8046"/><stop offset="1" stop-color="#1f8046"/></linearGradient>
<linearGradient id="gt" x1="0" y1="0" x2="1" y2="1"><stop offset="0" stop-color="#b4cfa6"/><stop offset="1" stop-color="#98bd8a"/></linearGradient></defs>
<ellipse cx="1010" cy="414.3" rx="55" ry="6" fill="#8a7a70" opacity="0.25" filter="url(#blur2)"/>
<path d="M955.5 252.3L955.5 399.5A24.4 6.5 0 0 0 1004.3 399.5L1004.3 252.3A24.4 9.7 0 0 0 955.5 252.3Z" fill="url(#gb)" stroke="#6b7a2f" stroke-width="1.6" stroke-linejoin="round"/>
<ellipse cx="979.9" cy="252.3" rx="24.4" ry="9.7" fill="url(#gt)" stroke="#6b7a2f" stroke-width="1.6"/>
<path d="M1001 252.7L1001 400A35.3 6.5 0 0 0 1071.6 400L1071.6 252.7A35.3 10.5 0 0 0 1001 252.7Z" fill="url(#gb)" stroke="#6b7a2f" stroke-width="1.6" stroke-linejoin="round"/>
<ellipse cx="1036.3" cy="252.7" rx="35.3" ry="10.5" fill="url(#gt)" stroke="#6b7a2f" stroke-width="1.6"/>
<path d="M973 259.6L973 408.8A37 6.5 0 0 0 1047 408.8L1047 259.6A37 9.5 0 0 0 973 259.6Z" fill="url(#gb)" stroke="#6b7a2f" stroke-width="1.6" stroke-linejoin="round"/>
<ellipse cx="1010" cy="259.6" rx="37" ry="9.5" fill="url(#gt)" stroke="#6b7a2f" stroke-width="1.6"/>
<defs><linearGradient id="rb" gradientUnits="userSpaceOnUse" x1="1286" y1="234.5" x2="1318" y2="314.5"><stop offset="0" stop-color="#d08a8a"/><stop offset="0.55" stop-color="#c06c6a"/><stop offset="0.86" stop-color="#b25654"/><stop offset="0.93" stop-color="#a94a46"/><stop offset="1" stop-color="#a94a46"/></linearGradient>
<linearGradient id="rt" x1="0" y1="0" x2="1" y2="1"><stop offset="0" stop-color="#ebcaca"/><stop offset="1" stop-color="#d9a5a5"/></linearGradient></defs>
<ellipse cx="1312.2" cy="416.3" rx="54.6" ry="6" fill="#8a7a70" opacity="0.25" filter="url(#blur2)"/>
<path d="M1258 250.1L1258 401A27 6.5 0 0 0 1312 401L1312 250.1A27 10 0 0 0 1258 250.1Z" fill="url(#rb)" stroke="#7b2b2c" stroke-width="1.8" stroke-linejoin="round"/>
<ellipse cx="1285" cy="250.1" rx="27" ry="10" fill="url(#rt)" stroke="#7b2b2c" stroke-width="1.8"/>
<path d="M1303.2 250.8L1303.2 401.5A35.5 6.5 0 0 0 1374.2 401.5L1374.2 250.8A35.5 11 0 0 0 1303.2 250.8Z" fill="url(#rb)" stroke="#7b2b2c" stroke-width="1.8" stroke-linejoin="round"/>
<ellipse cx="1338.7" cy="250.8" rx="35.5" ry="11" fill="url(#rt)" stroke="#7b2b2c" stroke-width="1.8"/>
<path d="M1275.6 257L1275.6 410.8A36.6 6.5 0 0 0 1348.8 410.8L1348.8 257A36.6 9.2 0 0 0 1275.6 257Z" fill="url(#rb)" stroke="#7b2b2c" stroke-width="1.8" stroke-linejoin="round"/>
<ellipse cx="1312.2" cy="257" rx="36.6" ry="9.2" fill="url(#rt)" stroke="#7b2b2c" stroke-width="1.8"/>
<defs>
<linearGradient id="hGT" x1="0.2" y1="0" x2="0.8" y2="1"><stop offset="0" stop-color="#a4cf8a"/><stop offset="0.28" stop-color="#6db49a"/><stop offset="0.5" stop-color="#3a9fb8"/><stop offset="1" stop-color="#3699b4"/></linearGradient>
<linearGradient id="hPT" x1="0.3" y1="0" x2="0.7" y2="1"><stop offset="0" stop-color="#5a4880"/><stop offset="0.35" stop-color="#515c92"/><stop offset="0.8" stop-color="#3a90b0"/><stop offset="1" stop-color="#3896b4"/></linearGradient>
<linearGradient id="hTG" x1="0.8" y1="0" x2="0.2" y2="1"><stop offset="0" stop-color="#3699b4"/><stop offset="0.58" stop-color="#3a9fb8"/><stop offset="0.8" stop-color="#6db49a"/><stop offset="1" stop-color="#b0d68c"/></linearGradient>
<linearGradient id="hTP" x1="0.7" y1="0" x2="0.3" y2="1"><stop offset="0" stop-color="#3896b4"/><stop offset="0.42" stop-color="#3a8fb0"/><stop offset="0.75" stop-color="#4f6296"/><stop offset="1" stop-color="#5a4682"/></linearGradient>
</defs>
<ellipse cx="880" cy="752" rx="52" ry="7" fill="#7a6a50" opacity="0.35" filter="url(#blur2)"/>
<path d="M814.4 600.8L830.4 744A18.5 5 0 0 0 867.4 744L851.4 600.8A18.5 5 0 0 0 814.4 600.8Z" fill="url(#hGT)" stroke="#1f7f92" stroke-width="1.6" stroke-linejoin="round"/>
<ellipse cx="832.9" cy="600.8" rx="18.5" ry="5" fill="#9fd0a6" stroke="#1f7f92" stroke-width="1.6" transform="rotate(-6.4 832.9 600.8)"/>
<path d="M866.1 602L880.9 744A18.5 5 0 0 0 917.9 744L903.1 602A18.5 5 0 0 0 866.1 602Z" fill="url(#hPT)" stroke="#1f7f92" stroke-width="1.6" stroke-linejoin="round"/>
<ellipse cx="884.6" cy="602" rx="18.5" ry="5" fill="#8f88b4" stroke="#1f7f92" stroke-width="1.6" transform="rotate(-6 884.6 602)"/>
<path d="M841.5 606.9L830.4 746A18.5 5 0 0 0 867.4 746L871.1 606.9A14.8 5 0 0 0 841.5 606.9Z" fill="url(#hGT)" stroke="#1f7f92" stroke-width="1.6" stroke-linejoin="round"/>
<ellipse cx="856.3" cy="606.9" rx="14.8" ry="5" fill="#b8dcb6" stroke="#1f7f92" stroke-width="1.6" transform="rotate(3 856.3 606.9)"/>
<path d="M894.7 613L887 752A18.5 5 0 0 0 924 752L930.9 613A18.1 5 0 0 0 894.7 613Z" fill="url(#hPT)" stroke="#1f7f92" stroke-width="1.6" stroke-linejoin="round"/>
<ellipse cx="912.8" cy="613" rx="18.1" ry="5" fill="#b9b6d4" stroke="#1f7f92" stroke-width="1.6" transform="rotate(3 912.8 613)"/>
<g fill="none" stroke="#111" stroke-width="2.3" stroke-linecap="round"><path d="M832.9 600C838 585 850 577 859 578.5C869 580 878 588 886 598.5"/><path d="M858.7 607C863 595 874 588 883.5 588.5C893 589 903 598 910.4 607"/></g>
<ellipse cx="853.6" cy="773.9" rx="12" ry="4" fill="#6a5a40" opacity="0.4" filter="url(#blur2)"/>
<ellipse cx="890.5" cy="774.6" rx="12" ry="4" fill="#6a5a40" opacity="0.4" filter="url(#blur2)"/>
<ellipse cx="907.2" cy="789.4" rx="12" ry="4" fill="#6a5a40" opacity="0.4" filter="url(#blur2)"/>
<circle cx="852.6" cy="761.9" r="12.2" fill="url(#gBall)" stroke="#d87a1c" stroke-width="0.8"/>
<circle cx="889.5" cy="762.6" r="12.2" fill="url(#gBall)" stroke="#d87a1c" stroke-width="0.8"/>
<circle cx="906.2" cy="777.4" r="12.2" fill="url(#gBall)" stroke="#d87a1c" stroke-width="0.8"/>
<ellipse cx="1570" cy="764" rx="100" ry="7" fill="#7a6a50" opacity="0.3" filter="url(#blur2)"/>
<path d="M1476.9 610L1464.3 747.1A13.2 5 0 0 0 1490.7 747.1L1511.3 610A17.2 6.5 0 0 0 1476.9 610Z" fill="url(#hTG)" stroke="#1f7f92" stroke-width="1.6" stroke-linejoin="round"/>
<ellipse cx="1477.5" cy="747.1" rx="13.2" ry="5" fill="#c9ead6" stroke="#1f7f92" stroke-width="1.6" transform="rotate(6.9 1477.5 747.1)"/>
<path d="M1528.6 610L1516.3 748.4A13.5 5 0 0 0 1543.3 748.4L1565.4 610A18.4 6.5 0 0 0 1528.6 610Z" fill="url(#hTP)" stroke="#1f7f92" stroke-width="1.6" stroke-linejoin="round"/>
<ellipse cx="1529.8" cy="748.4" rx="13.5" ry="5" fill="#c2bcd8" stroke="#1f7f92" stroke-width="1.6" transform="rotate(7.1 1529.8 748.4)"/>
<path d="M1570.1 612L1556.2 752A13 5 0 0 0 1582.2 752L1597.7 612A13.8 6.5 0 0 0 1570.1 612Z" fill="url(#hTG)" stroke="#1f7f92" stroke-width="1.6" stroke-linejoin="round"/>
<ellipse cx="1569.2" cy="752" rx="13" ry="5" fill="#c9ead6" stroke="#1f7f92" stroke-width="1.6" transform="rotate(6 1569.2 752)"/>
<path d="M1620.8 611L1608.2 752A12.6 5 0 0 0 1633.4 752L1658.8 611A19 6.5 0 0 0 1620.8 611Z" fill="url(#hTP)" stroke="#1f7f92" stroke-width="1.6" stroke-linejoin="round"/>
<ellipse cx="1620.8" cy="752" rx="12.6" ry="5" fill="#c2bcd8" stroke="#1f7f92" stroke-width="1.6" transform="rotate(7.7 1620.8 752)"/>
<path d="M1479.4 616L1490.5 754A17.2 5 0 0 0 1524.9 754L1513.8 616A17.2 6.5 0 0 0 1479.4 616Z" fill="url(#hTG)" stroke="#1f7f92" stroke-width="1.6" stroke-linejoin="round"/>
<ellipse cx="1507.7" cy="754" rx="17.2" ry="5" fill="#d2efdc" stroke="#1f7f92" stroke-width="1.6" transform="rotate(-4.6 1507.7 754)"/>
<path d="M1535.9 622L1541.5 761.4A17.8 5 0 0 0 1577.1 761.4L1569.1 622A16.6 6.5 0 0 0 1535.9 622Z" fill="url(#hTP)" stroke="#1f7f92" stroke-width="1.6" stroke-linejoin="round"/>
<ellipse cx="1559.3" cy="761.4" rx="17.8" ry="5" fill="#cdc8e2" stroke="#1f7f92" stroke-width="1.6" transform="rotate(-2.8 1559.3 761.4)"/>
<path d="M1572.8 617L1583.9 758.2A17.2 5 0 0 0 1618.3 758.2L1608.4 617A17.8 6.5 0 0 0 1572.8 617Z" fill="url(#hTG)" stroke="#1f7f92" stroke-width="1.6" stroke-linejoin="round"/>
<ellipse cx="1601.1" cy="758.2" rx="17.2" ry="5" fill="#d2efdc" stroke="#1f7f92" stroke-width="1.6" transform="rotate(-4.3 1601.1 758.2)"/>
<path d="M1628.2 624.5L1635 764.3A17.8 5 0 0 0 1670.6 764.3L1663.8 624.5A17.8 6.5 0 0 0 1628.2 624.5Z" fill="url(#hTP)" stroke="#1f7f92" stroke-width="1.6" stroke-linejoin="round"/>
<ellipse cx="1652.8" cy="764.3" rx="17.8" ry="5" fill="#cdc8e2" stroke="#1f7f92" stroke-width="1.6" transform="rotate(-2.8 1652.8 764.3)"/>
<g fill="none" stroke="#111" stroke-width="2.3" stroke-linecap="round"><path d="M1481.8 750.8C1488 762 1498 769.5 1507 769C1518 768.5 1529 762 1536 752"/><path d="M1507.7 760.6C1514 769 1524 776.5 1534 776.6C1544 776.5 1553 769 1558 760.6"/><path d="M1574 753.3C1580 764 1589 771.5 1598 771.7C1609 771.5 1620 764 1627 754.5"/><path d="M1600 764.3C1606 772 1615 780 1625 780.3C1635 780 1646 772 1651.6 764.3"/></g>
<rect x="1106.6" y="34.3" width="132.7" height="59.1" fill="#fff" opacity="0.85"/>
<text x="1171.9" y="77" text-anchor="middle">OMPs</text>
<rect x="1808" y="297" width="97" height="65" fill="#fff" opacity="0.8"/>
<text x="1857.3" y="342.7" text-anchor="middle">OM</text>
<rect x="1723.7" y="469.8" width="189.1" height="57.8" fill="#fff" opacity="0.8"/>
<text x="1818.1" y="512.2" text-anchor="middle">Periplasm</text>
<rect x="1820.6" y="637" width="104.4" height="70.4" fill="#fff" opacity="0.72"/>
<text x="1865.9" y="685.3" text-anchor="middle">CM</text>
<rect x="1713" y="803.3" width="198" height="57.9" fill="#fff" opacity="0.82"/>
<text x="1810.2" y="844.3" text-anchor="middle">Cytoplasm</text>
<rect x="1015" y="834.1" width="327.5" height="58.4" fill="#fff" opacity="0.82"/>
<text x="1180.3" y="876.7" text-anchor="middle">Membrane proteins</text>
<text x="314.8" y="424.3" text-anchor="middle">Lipoprotein</text>
<text x="290.8" y="513.6" text-anchor="middle">Peptidoglycan</text>
<text x="299.8" y="685.5" text-anchor="middle">Phospholipid</text>
<path d="M1122.5 94.2L1038.3 194.6" stroke="#000" stroke-width="2.1" fill="none"/>
<path d="M1028.7 206.1L1034.3 188.6L1045 197.6Z" fill="#000"/>
<path d="M1221.3 94.2L1303.3 199.8" stroke="#000" stroke-width="2.1" fill="none"/>
<path d="M1312.5 211.6L1296.5 202.5L1307.6 193.9Z" fill="#000"/>
<path d="M427.5 419.9L495.3 419.9" stroke="#000" stroke-width="2.3" fill="none"/>
<path d="M509.8 419.9L493.3 428.1L493.3 411.6Z" fill="#000"/>
<path d="M979.7 850.6L940.4 824.1" stroke="#000" stroke-width="2.1" fill="none"/>
<path d="M931.3 818L945.3 820.5L938.9 830Z" fill="#000"/>
<path d="M1380.5 850L1420.1 823.5" stroke="#000" stroke-width="2.1" fill="none"/>
<path d="M1429.2 817.4L1421.6 829.4L1415.2 819.9Z" fill="#000"/>
<path d="M438.3 446.5H431.3Q428.3 446.5 428.3 449.5V575.5Q428.3 578.5 431.3 578.5H438.3" fill="none" stroke="#111" stroke-width="2.2"/>
<path d="M435 646.4H429Q426 646.4 426 649.4V712.8Q426 715.8 429 715.8H435" fill="none" stroke="#111" stroke-width="2.2"/>
<defs>
<linearGradient id="i1" x1="0" y1="0" x2="0" y2="1"><stop offset="0" stop-color="#cfe8f0"/><stop offset="1" stop-color="#3a9fbc"/></linearGradient>
<linearGradient id="i2" x1="0" y1="0" x2="0" y2="1"><stop offset="0" stop-color="#ecefc0"/><stop offset="1" stop-color="#b0bd6a"/></linearGradient>
<linearGradient id="i3" x1="0" y1="0" x2="0" y2="1"><stop offset="0" stop-color="#93b068"/><stop offset="1" stop-color="#3692aa"/></linearGradient>
<linearGradient id="i4" x1="0" y1="0" x2="0" y2="1"><stop offset="0" stop-color="#b4504a"/><stop offset="1" stop-color="#735a9c"/></linearGradient>
<linearGradient id="i5" x1="0" y1="0" x2="0" y2="1"><stop offset="0" stop-color="#ea8420"/><stop offset="1" stop-color="#bd5c4a"/></linearGradient>
<linearGradient id="i6" x1="0" y1="0" x2="0.6" y2="1"><stop offset="0" stop-color="#fde6a8"/><stop offset="1" stop-color="#f09c3a"/></linearGradient>
</defs>
<path d="M304.1 60V276" stroke="#111" stroke-width="2.1"/>
<polygon points="-18,0 -9.2,-15.7 9.2,-15.7 18,0 9.2,15.7 -9.2,15.7" transform="translate(315.2 57.3)" fill="url(#i1)" stroke="#2b8ba2" stroke-width="1.8" stroke-linejoin="round"/>
<polygon points="-18,0 -9.2,-15.7 9.2,-15.7 18,0 9.2,15.7 -9.2,15.7" transform="translate(315.2 95.4)" fill="url(#i2)" stroke="#7f8f3c" stroke-width="1.8" stroke-linejoin="round"/>
<polygon points="-18,0 -9.2,-15.7 9.2,-15.7 18,0 9.2,15.7 -9.2,15.7" transform="translate(315.2 133.2)" fill="url(#i3)" stroke="#2b8a9c" stroke-width="1.8" stroke-linejoin="round"/>
<polygon points="-18,0 -9.2,-15.7 9.2,-15.7 18,0 9.2,15.7 -9.2,15.7" transform="translate(315.2 173.8)" fill="url(#i4)" stroke="#cf8c7a" stroke-width="1.8" stroke-linejoin="round"/>
<path d="M366 212.8H384" stroke="#111" stroke-width="1.6"/>
<polygon points="-18,0 -9.2,-15.7 9.2,-15.7 18,0 9.2,15.7 -9.2,15.7" transform="translate(314.8 213.2)" fill="url(#i4)" stroke="#cf8c7a" stroke-width="1.8" stroke-linejoin="round"/>
<polygon points="-18,0 -9.2,-15.7 9.2,-15.7 18,0 9.2,15.7 -9.2,15.7" transform="translate(349.8 213.2)" fill="url(#i4)" stroke="#cf8c7a" stroke-width="1.8" stroke-linejoin="round"/>
<polygon points="-18,0 -9.2,-15.7 9.2,-15.7 18,0 9.2,15.7 -9.2,15.7" transform="translate(314.8 251.9)" fill="url(#i5)" stroke="#cc8c64" stroke-width="1.8" stroke-linejoin="round"/>
<polygon points="-18,0 -9.2,-15.7 9.2,-15.7 18,0 9.2,15.7 -9.2,15.7" transform="translate(349.8 251.9)" fill="url(#i5)" stroke="#cc8c64" stroke-width="1.8" stroke-linejoin="round"/>
<polygon points="-18,0 -9.2,-15.7 9.2,-15.7 18,0 9.2,15.7 -9.2,15.7" transform="translate(385.2 251.9)" fill="url(#i5)" stroke="#cc8c64" stroke-width="1.8" stroke-linejoin="round"/>
<g fill="none" stroke="#e0d3be" stroke-width="2.4" stroke-linecap="round" filter="url(#blur0)">
<path d="M306.6 307L307.3 308.4L307.5 309.9L307.1 311.4L306.3 312.8L305.4 314.2L304.7 315.7L304.5 317.1L304.9 318.6L305.7 320.1L306.6 321.5L307.3 322.9L307.5 324.4L307.1 325.9L306.3 327.3L305.4 328.8L304.7 330.2L304.5 331.6L304.9 333.1L305.7 334.6L306.6 336L307.3 337.4L307.5 338.9L307.1 340.4L306.3 341.8L305.4 343.2L304.7 344.7L304.5 346.1L304.9 347.6L305.7 349.1L306.6 350.5"/>
<path d="M313 307L313.7 308.4L313.9 309.9L313.5 311.4L312.7 312.8L311.8 314.2L311.1 315.7L310.9 317.1L311.3 318.6L312.1 320.1L313 321.5L313.7 322.9L313.9 324.4L313.5 325.9L312.7 327.3L311.8 328.8L311.1 330.2L310.9 331.6L311.3 333.1L312.1 334.6L313 336L313.7 337.4L313.9 338.9L313.5 340.4L312.7 341.8L311.8 343.2L311.1 344.7L310.9 346.1L311.3 347.6L312.1 349.1L313 350.5"/>
<path d="M319.4 307L320.1 308.4L320.3 309.9L319.9 311.4L319.1 312.8L318.2 314.2L317.5 315.7L317.3 317.1L317.7 318.6L318.5 320.1L319.4 321.5L320.1 322.9L320.3 324.4L319.9 325.9L319.1 327.3L318.2 328.8L317.5 330.2L317.3 331.6L317.7 333.1L318.5 334.6L319.4 336L320.1 337.4L320.3 338.9L319.9 340.4L319.1 341.8L318.2 343.2L317.5 344.7L317.3 346.1L317.7 347.6L318.5 349.1L319.4 350.5"/>
<path d="M325.9 307L326.6 308.4L326.8 309.9L326.4 311.4L325.6 312.8L324.7 314.2L324 315.7L323.8 317.1L324.2 318.6L325 320.1L325.9 321.5L326.6 322.9L326.8 324.4L326.4 325.9L325.6 327.3L324.7 328.8L324 330.2L323.8 331.6L324.2 333.1L325 334.6L325.9 336L326.6 337.4L326.8 338.9L326.4 340.4L325.6 341.8L324.7 343.2L324 344.7L323.8 346.1L324.2 347.6L325 349.1L325.9 350.5"/>
<path d="M341.6 307L342.3 308.4L342.5 309.9L342.1 311.4L341.3 312.8L340.4 314.2L339.7 315.7L339.5 317.1L339.9 318.6L340.7 320.1L341.6 321.5L342.3 322.9L342.5 324.4L342.1 325.9L341.3 327.3L340.4 328.8L339.7 330.2L339.5 331.6L339.9 333.1L340.7 334.6L341.6 336L342.3 337.4L342.5 338.9L342.1 340.4L341.3 341.8L340.4 343.2L339.7 344.7L339.5 346.1L339.9 347.6L340.7 349.1L341.6 350.5"/>
<path d="M348 307L348.7 308.4L348.9 309.9L348.5 311.4L347.7 312.8L346.8 314.2L346.1 315.7L345.9 317.1L346.3 318.6L347.1 320.1L348 321.5L348.7 322.9L348.9 324.4L348.5 325.9L347.7 327.3L346.8 328.8L346.1 330.2L345.9 331.6L346.3 333.1L347.1 334.6L348 336L348.7 337.4L348.9 338.9L348.5 340.4L347.7 341.8L346.8 343.2L346.1 344.7L345.9 346.1L346.3 347.6L347.1 349.1L348 350.5"/>
<path d="M354.5 307L355.2 308.4L355.4 309.9L355 311.4L354.2 312.8L353.3 314.2L352.6 315.7L352.4 317.1L352.8 318.6L353.6 320.1L354.5 321.5L355.2 322.9L355.4 324.4L355 325.9L354.2 327.3L353.3 328.8L352.6 330.2L352.4 331.6L352.8 333.1L353.6 334.6L354.5 336L355.2 337.4L355.4 338.9L355 340.4L354.2 341.8L353.3 343.2L352.6 344.7L352.4 346.1L352.8 347.6L353.6 349.1L354.5 350.5"/>
<path d="M360.9 307L361.6 308.4L361.8 309.9L361.4 311.4L360.6 312.8L359.7 314.2L359 315.7L358.8 317.1L359.2 318.6L360 320.1L360.9 321.5L361.6 322.9L361.8 324.4L361.4 325.9L360.6 327.3L359.7 328.8L359 330.2L358.8 331.6L359.2 333.1L360 334.6L360.9 336L361.6 337.4L361.8 338.9L361.4 340.4L360.6 341.8L359.7 343.2L359 344.7L358.8 346.1L359.2 347.6L360 349.1L360.9 350.5"/>
</g>
<polygon points="-18,0 -9.2,-15.7 9.2,-15.7 18,0 9.2,15.7 -9.2,15.7" transform="translate(315.2 291.2)" fill="url(#i6)" stroke="#c98c64" stroke-width="1.8" stroke-linejoin="round"/>
<polygon points="-18,0 -9.2,-15.7 9.2,-15.7 18,0 9.2,15.7 -9.2,15.7" transform="translate(349.8 291.2)" fill="url(#i6)" stroke="#c98c64" stroke-width="1.8" stroke-linejoin="round"/>
<circle cx="376" cy="212.8" r="5.6" fill="#d8200c"/>
<circle cx="388.9" cy="212.8" r="5.6" fill="#d8200c"/>
<circle cx="291.8" cy="290.6" r="6" fill="#d8200c"/>
<circle cx="373.4" cy="290.6" r="6" fill="#d8200c"/>
<path d="M122.4 55.8H114.4Q111.4 55.8 111.4 58.8V354Q111.4 357 114.4 357H122.4" fill="none" stroke="#111" stroke-width="2.2"/>
<path d="M284.8 46.1H278.3Q275.3 46.1 275.3 49.1V154.3Q275.3 157.3 278.3 157.3H284.8" fill="none" stroke="#111" stroke-width="2.2"/>
<path d="M284.8 166.2H278.3Q275.3 166.2 275.3 169.2V263.6Q275.3 266.6 278.3 266.6H284.8" fill="none" stroke="#111" stroke-width="2.2"/>
<path d="M284.3 272.6H277.8Q274.8 272.6 274.8 275.6V347.5Q274.8 350.5 277.8 350.5H284.3" fill="none" stroke="#111" stroke-width="2.2"/>
<text x="64.8" y="215.7" text-anchor="middle" stroke="#000" stroke-width="0.5">LPS</text>
<text x="201.6" y="89.3" text-anchor="middle">O-antigen</text>
<text x="202.3" y="127.5" text-anchor="middle">repeats</text>
<text x="216.3" y="210.2" text-anchor="middle">Core-</text>
<text x="215.8" y="248.8" text-anchor="middle">region</text>
<text x="221.4" y="323.8" text-anchor="middle">lipid A</text>
<g fill="none" stroke="#111" stroke-width="2.2" stroke-dasharray="8.5 5.2"><rect x="428.5" y="132.5" width="94.6" height="192.3"/><path d="M348.3 42.5L428.5 132.5"/><path d="M428.5 324.8L358 366"/></g>
<rect x="17.2" y="17.2" width="517.4" height="379" rx="58" ry="58" fill="none" stroke="#7030a0" stroke-width="4.6"/>
</svg></body></html>
